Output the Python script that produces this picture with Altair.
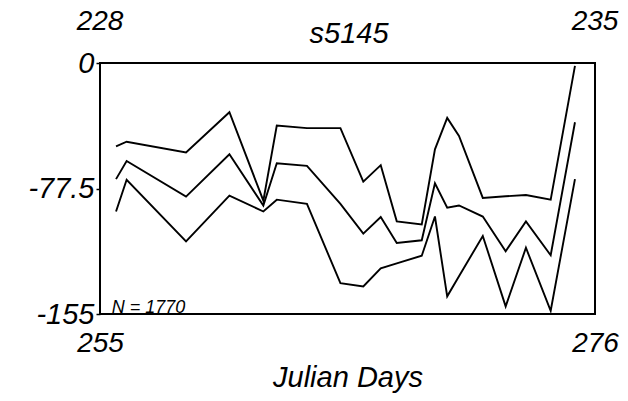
import altair as alt
import pandas as pd

days = [255.68, 256.13, 258.65, 260.49, 261.93, 262.5, 263.78, 265.2, 266.17, 266.91,
        267.59, 268.65, 269.21, 269.73, 270.23, 271.24, 272.21, 273.07, 274.12, 275.15]
upper = [-51.5, -48.6, -55.3, -30.4, -85.0, -38.6, -40.2, -40.2, -73.3, -63.1,
         -97.8, -99.7, -53.3, -33.9, -45.1, -83.3, -82.3, -81.5, -84.4, -1.8]
middle = [-71.7, -60.5, -82.5, -56.4, -88.0, -61.9, -63.5, -87.0, -105.4, -95.1,
          -111.1, -109.5, -74.3, -89.4, -88.0, -94.8, -116.2, -97.8, -118.7, -36.6]
lower = [-91.7, -72.1, -110.1, -81.9, -91.7, -84.4, -87.0, -136.0, -138.0, -126.8,
         -123.7, -119.0, -94.8, -144.1, -131.7, -106.8, -150.3, -114.1, -153.0, -71.7]

x_ticks = [255, 276]
y_ticks = [0, -77.5, -155]
top_labels = ["228", "235"]
title_text = "s5145"
x_title = "Julian Days"
note_text = "N = 1770"
note_pos = (255.5, -155)

FONT = "Liberation Sans"

rows = []
for name, vals in [("upper", upper), ("middle", middle), ("lower", lower)]:
    for d, v in zip(days, vals):
        rows.append({"series": name, "day": d, "value": v})
df = pd.DataFrame(rows)

x_scale = alt.Scale(domain=[255, 276], nice=False, zero=False)
y_scale = alt.Scale(domain=[-155, 0], nice=False, zero=False)

lines = alt.Chart(df).mark_line(color="black", strokeWidth=1.9).encode(
    x=alt.X("day:Q", scale=x_scale,
            axis=alt.Axis(values=x_ticks, title=x_title, grid=False, ticks=False, domain=False,
                          labelFlush=False, labelFontSize=28, labelFont=FONT,
                          labelFontStyle="italic", labelColor="black", labelPadding=15,
                          titleFontSize=29, titleFont=FONT, titleFontStyle="italic",
                          titleFontWeight="normal", titleColor="black", titlePadding=6)),
    y=alt.Y("value:Q", scale=y_scale,
            axis=alt.Axis(values=y_ticks, title=None, grid=False, domain=False,
                          tickSize=4, tickColor="black", tickWidth=1.5, labelPadding=2,
                          labelExpr="datum.value == 0 ? '0' : '' + datum.value",
                          labelFontSize=29, labelFont=FONT, labelFontStyle="italic",
                          labelColor="black", labelFlush=False)),
    detail="series:N",
)

top_df = pd.DataFrame({"day": x_ticks, "label": top_labels})
top_text = alt.Chart(top_df).mark_text(
    font=FONT, fontSize=28, fontStyle="italic", color="black",
    baseline="alphabetic", align="center"
).encode(x=alt.X("day:Q", scale=x_scale), y=alt.value(-33), text="label:N")

title_df = pd.DataFrame({"label": [title_text]})
title_mark = alt.Chart(title_df).mark_text(
    font=FONT, fontSize=29, fontStyle="italic", color="black",
    baseline="alphabetic", align="center"
).encode(x=alt.value(249), y=alt.value(-20), text="label:N")

note_df = pd.DataFrame({"day": [note_pos[0]], "value": [note_pos[1]], "label": [note_text]})
note = alt.Chart(note_df).mark_text(
    font=FONT, fontSize=18, fontStyle="italic", color="black",
    baseline="alphabetic", align="left", dy=-1
).encode(x=alt.X("day:Q", scale=x_scale), y=alt.Y("value:Q", scale=y_scale), text="label:N")

chart = alt.layer(lines, top_text, title_mark, note).properties(
    width=495, height=251,
    background="white",
    padding={"left": 92, "top": 55, "right": 25, "bottom": 80},
    autosize=alt.AutoSizeParams(type="none"),
).configure_view(stroke="#000000", strokeWidth=2)

chart.save("out.html", embed_options={"renderer": "svg", "actions": False})
